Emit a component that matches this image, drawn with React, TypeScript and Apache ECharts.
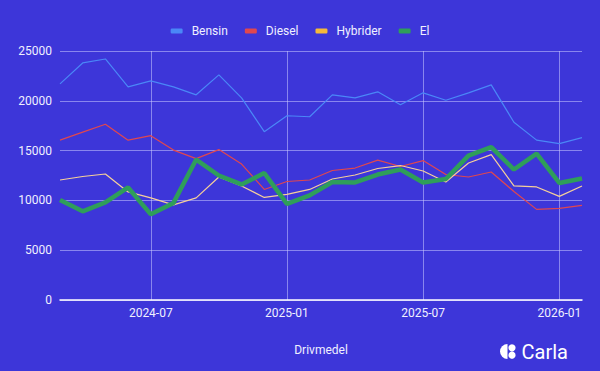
import React, { useEffect, useRef } from "react";
import * as echarts from "echarts";

const months = [
  "2024-03", "2024-04", "2024-05", "2024-06", "2024-07", "2024-08", "2024-09", "2024-10",
  "2024-11", "2024-12", "2025-01", "2025-02", "2025-03", "2025-04", "2025-05", "2025-06",
  "2025-07", "2025-08", "2025-09", "2025-10", "2025-11", "2025-12", "2026-01", "2026-02",
];
const bensin = [21700, 23800, 24200, 21400, 22000, 21400, 20600, 22600, 20300, 16900, 18500, 18400, 20600, 20300, 20900, 19600, 20800, 20050, 20800, 21600, 17850, 16050, 15700, 16300];
const diesel = [16050, 16850, 17650, 16050, 16500, 15050, 14200, 15100, 13650, 11100, 11900, 12050, 13000, 13250, 14050, 13400, 14000, 12600, 12350, 12850, 10900, 9100, 9200, 9500];
const hybrider = [12050, 12400, 12650, 10850, 10250, 9550, 10250, 12350, 11450, 10300, 10600, 11100, 12150, 12550, 13200, 13500, 12950, 11850, 13750, 14600, 11450, 11350, 10400, 11450];
const el = [10050, 8900, 9800, 11300, 8600, 9750, 14100, 12500, 11600, 12750, 9650, 10500, 11850, 11800, 12600, 13100, 11800, 12150, 14500, 15350, 13100, 14700, 11750, 12200];
const yTicks = [0, 5000, 10000, 15000, 20000, 25000];
const shownMonths = ["2024-07", "2025-01", "2025-07", "2026-01"];

export default function App() {
  const ref = useRef<HTMLDivElement>(null);
  useEffect(() => {
    if (!ref.current) return;
    const chart = echarts.init(ref.current, null, { renderer: "svg" });
    const show = (i: number) => shownMonths.includes(months[i]);
    const font = "Roboto, 'Noto Sans', sans-serif";
    chart.setOption({
      animation: false,
      backgroundColor: "#3d36d9",
      textStyle: { fontFamily: font },
      legend: {
        top: 20,
        left: "center",
        itemWidth: 12,
        itemHeight: 5,
        itemGap: 17,
        icon: "roundRect",
        textStyle: { color: "#f0f0ff", fontSize: 12, fontFamily: font, padding: [0, 0, 0, 4] },
        data: ["Bensin", "Diesel", "Hybrider", "El"],
      },
      grid: { left: 60, right: 18, top: 51, bottom: 71 },
      xAxis: {
        type: "category",
        data: months,
        boundaryGap: false,
        name: "Drivmedel",
        nameLocation: "middle",
        nameGap: 44,
        nameTextStyle: { color: "#f0f0ff", fontSize: 12 },
        axisLine: { lineStyle: { color: "#ffffff", width: 1.5 } },
        axisTick: { show: false },
        axisLabel: { color: "#f0f0ff", fontSize: 12, interval: (i: number) => show(i), margin: 7 },
        splitLine: { show: true, interval: (i: number) => show(i), lineStyle: { color: "rgba(200,200,255,0.55)", width: 1 } },
      },
      yAxis: {
        type: "value",
        min: yTicks[0],
        max: yTicks[yTicks.length - 1],
        interval: 5000,
        axisLine: { show: false },
        axisTick: { show: false },
        axisLabel: { color: "#f0f0ff", fontSize: 12, margin: 8, formatter: (v: number) => String(v) },
        splitLine: { lineStyle: { color: "rgba(200,200,255,0.55)", width: 1 } },
      },
      series: [
        { name: "Bensin", type: "line", data: bensin, symbol: "none", color: "#4a87f7", lineStyle: { width: 1.2 } },
        { name: "Diesel", type: "line", data: diesel, symbol: "none", color: "#e0474f", lineStyle: { width: 1.2 } },
        { name: "Hybrider", type: "line", data: hybrider, symbol: "none", color: "#f5b93a", lineStyle: { width: 1.2, color: "#f5cf9a" } },
        { name: "El", type: "line", data: el, symbol: "none", color: "#2f9e5a", lineStyle: { width: 4.5 } },
      ],
      graphic: [
        {
          type: "group",
          left: 500,
          top: 342,
          children: [
            { type: "sector", shape: { cx: 8, cy: 7.5, r0: 0, r: 7.5, startAngle: Math.PI / 2, endAngle: (3 * Math.PI) / 2, clockwise: true }, style: { fill: "#ffffff" } },
            { type: "circle", shape: { cx: 12.5, cy: 3.8, r: 3.6 }, style: { fill: "#ffffff" } },
            { type: "circle", shape: { cx: 12.5, cy: 11.2, r: 3.6 }, style: { fill: "#ffffff" } },
            { type: "text", x: 22, y: 8, style: { text: "Carla", fill: "#ffffff", fontSize: 20, fontFamily: font, fontWeight: "normal", verticalAlign: "middle" } },
          ],
        },
      ],
    });
    return () => chart.dispose();
  }, []);
  return <div ref={ref} style={{ width: 600, height: 371, position: "absolute", left: 0, top: 0 }} />;
}
